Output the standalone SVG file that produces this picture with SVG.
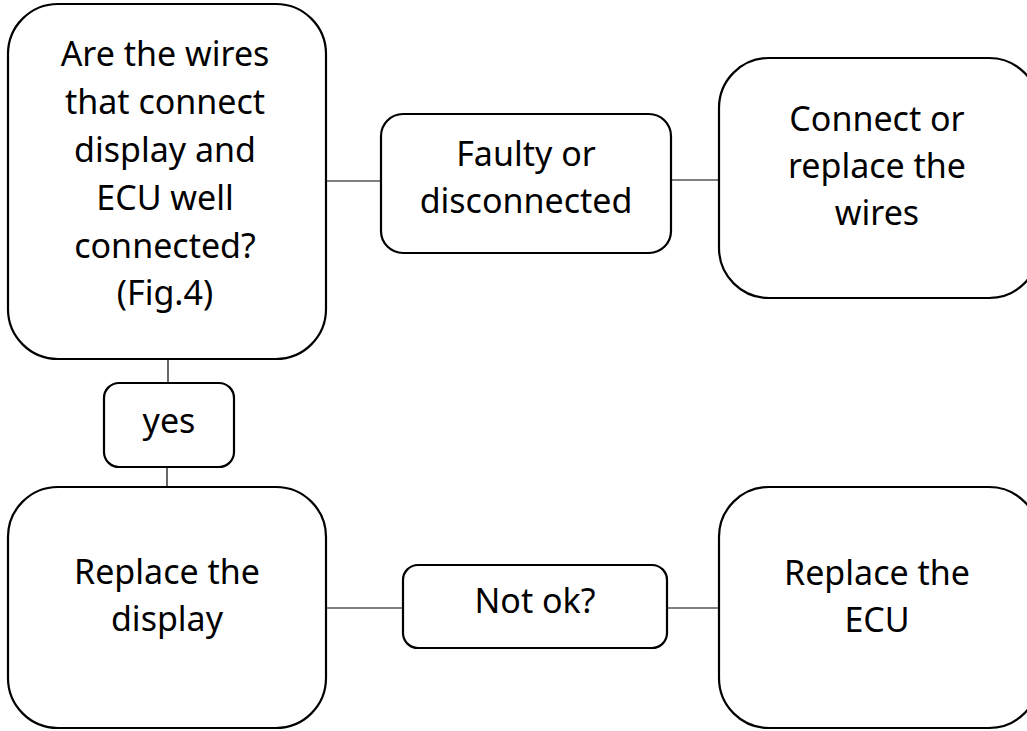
<svg xmlns="http://www.w3.org/2000/svg" width="1027" height="731" viewBox="0 0 1027 731">
<style>
.box{fill:#fff;stroke:#000;stroke-width:2.2}
.ln{stroke:#000;stroke-width:1.2;fill:none}
text{font-family:"Noto Sans","Liberation Sans",sans-serif;font-size:34px;fill:#000;text-anchor:middle}
</style>
<rect width="1027" height="731" fill="#fff"/>
<g id="connectors">
<line class="ln" x1="326" y1="181" x2="381" y2="181"/>
<line class="ln" x1="671" y1="180" x2="719" y2="180"/>
<line class="ln" x1="168" y1="359" x2="168" y2="383"/>
<line class="ln" x1="167" y1="467" x2="167" y2="488"/>
<line class="ln" x1="326" y1="608" x2="403" y2="608"/>
<line class="ln" x1="667" y1="608" x2="719" y2="608"/>
</g>
<g id="n1">
<rect class="box" x="8" y="4" width="318" height="355" rx="50"/>
<text><tspan x="165" y="66">Are the wires</tspan><tspan x="165" y="114">that connect</tspan><tspan x="165" y="162">display and</tspan><tspan x="165" y="210">ECU well</tspan><tspan x="165" y="258">connected?</tspan><tspan x="165" y="305">(Fig.4)</tspan></text>
</g>
<g id="n2">
<rect class="box" x="381" y="114" width="290" height="139" rx="22"/>
<text><tspan x="526" y="166">Faulty or</tspan><tspan x="526" y="213">disconnected</tspan></text>
</g>
<g id="n3">
<rect class="box" x="719" y="58" width="320" height="240" rx="50"/>
<text><tspan x="877" y="131">Connect or</tspan><tspan x="877" y="178">replace the</tspan><tspan x="877" y="225">wires</tspan></text>
</g>
<g id="n4">
<rect class="box" x="104" y="383" width="130" height="84" rx="15"/>
<text x="169" y="433">yes</text>
</g>
<g id="n5">
<rect class="box" x="8" y="487" width="318" height="241" rx="50"/>
<text><tspan x="167" y="584">Replace the</tspan><tspan x="167" y="631">display</tspan></text>
</g>
<g id="n6">
<rect class="box" x="403" y="565" width="264" height="83" rx="15"/>
<text x="535" y="613">Not ok?</text>
</g>
<g id="n7">
<rect class="box" x="719" y="487" width="320" height="241" rx="50"/>
<text><tspan x="877" y="585">Replace the</tspan><tspan x="877" y="632">ECU</tspan></text>
</g>
</svg>
